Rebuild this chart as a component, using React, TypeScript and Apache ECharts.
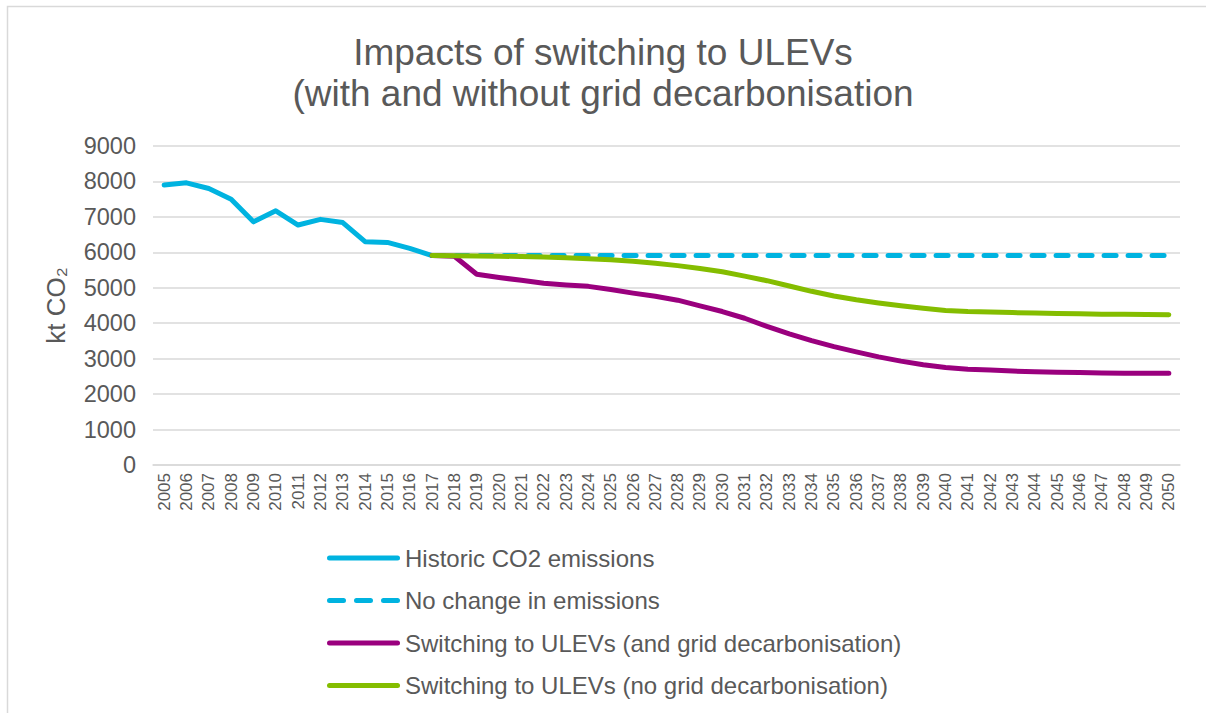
import React, { useEffect, useRef } from "react";
import * as echarts from "echarts";

const years = [
  "2005", "2006", "2007", "2008", "2009", "2010", "2011", "2012", "2013", "2014",
  "2015", "2016", "2017", "2018", "2019", "2020", "2021", "2022", "2023", "2024",
  "2025", "2026", "2027", "2028", "2029", "2030", "2031", "2032", "2033", "2034",
  "2035", "2036", "2037", "2038", "2039", "2040", "2041", "2042", "2043", "2044",
  "2045", "2046", "2047", "2048", "2049", "2050",
];

// 2005–2017
const historic = [7900, 7960, 7800, 7500, 6860, 7170, 6770, 6930, 6840, 6300, 6280, 6110, 5910];

// 2017–2050
const noChange = [
  5910, 5910, 5910, 5910, 5910, 5910, 5910, 5910, 5910, 5910, 5910, 5910,
  5910, 5910, 5910, 5910, 5910, 5910, 5910, 5910, 5910, 5910, 5910, 5910,
  5910, 5910, 5910, 5910, 5910, 5910, 5910, 5910, 5910, 5910,
];

// 2017–2050
const ulevGrid = [
  5910, 5890, 5380, 5290, 5210, 5130, 5080, 5040, 4950, 4850, 4760, 4650,
  4490, 4330, 4140, 3910, 3700, 3510, 3340, 3190, 3050, 2930, 2830, 2750,
  2700, 2680, 2650, 2630, 2615, 2610, 2595, 2590, 2590, 2590,
];

// 2017–2050
const ulevNoGrid = [
  5910, 5905, 5900, 5890, 5880, 5865, 5845, 5820, 5790, 5750, 5690, 5625,
  5545, 5450, 5330, 5200, 5050, 4900, 4770, 4660, 4570, 4490, 4420, 4360,
  4330, 4315, 4300, 4285, 4275, 4265, 4255, 4250, 4245, 4240,
];

const seriesNames = [
  "Historic CO2 emissions",
  "No change in emissions",
  "Switching to ULEVs (and grid decarbonisation)",
  "Switching to ULEVs (no grid decarbonisation)",
];

const TEXT = "#595959";
const FONT = "'Liberation Sans', Arial, sans-serif";

const SOLID_ICON =
  "path://M2.5,0 L70.5,0 A2.5,2.5 0 0 1 70.5,5 L2.5,5 A2.5,2.5 0 0 1 2.5,0 Z";
const DASH_ICON =
  "path://M2.5,0 L16.5,0 A2.5,2.5 0 0 1 16.5,5 L2.5,5 A2.5,2.5 0 0 1 2.5,0 Z " +
  "M29.5,0 L43.5,0 A2.5,2.5 0 0 1 43.5,5 L29.5,5 A2.5,2.5 0 0 1 29.5,0 Z " +
  "M56.5,0 L70.5,0 A2.5,2.5 0 0 1 70.5,5 L56.5,5 A2.5,2.5 0 0 1 56.5,0 Z";

function padFromStart(vals: number[], startYear: string) {
  const idx = years.indexOf(startYear);
  const out: (number | null)[] = years.map(() => null);
  vals.forEach((v, i) => {
    out[idx + i] = v;
  });
  return out;
}

export default function App() {
  const ref = useRef<HTMLDivElement>(null);

  useEffect(() => {
    if (!ref.current) return;
    const chart = echarts.init(ref.current, null, { renderer: "svg" });
    const lineBase = (color: string, dashed = false) => ({
      color,
      width: 5,
      type: dashed ? [12, 12] : "solid",
      cap: "round",
      join: "round",
    });
    chart.setOption({
      animation: false,
      backgroundColor: "#ffffff",
      textStyle: { fontFamily: FONT, color: TEXT },
      graphic: [
        {
          type: "rect",
          shape: { x: 7.5, y: 6.5, width: 1400, height: 900 },
          style: { fill: "none", stroke: "#d9d9d9", lineWidth: 1.5 },
          silent: true,
        },
      ],
      title: {
        text: "Impacts of switching to ULEVs\n(with and without grid decarbonisation",
        left: "center",
        top: 27,
        textStyle: {
          fontFamily: FONT,
          fontSize: 37,
          lineHeight: 41,
          fontWeight: "normal",
          color: TEXT,
        },
      },
      grid: { left: 153, right: 26, top: 146, bottom: 248, containLabel: false },
      legend: {
        orient: "vertical",
        left: 322,
        top: 541,
        itemWidth: 73,
        itemHeight: 5,
        itemGap: 18.5,
        data: [
          { name: seriesNames[0], icon: SOLID_ICON },
          { name: seriesNames[1], icon: DASH_ICON },
          { name: seriesNames[2], icon: SOLID_ICON },
          { name: seriesNames[3], icon: SOLID_ICON },
        ],
        textStyle: { fontFamily: FONT, fontSize: 24, color: TEXT },
      },
      xAxis: {
        type: "category",
        data: years,
        boundaryGap: true,
        axisLine: { show: true, lineStyle: { color: "#d9d9d9", width: 1.5 } },
        axisTick: { show: false },
        axisLabel: {
          rotate: 90,
          interval: 0,
          margin: 8,
          fontFamily: FONT,
          fontSize: 17,
          color: TEXT,
        },
        splitLine: { show: false },
      },
      yAxis: {
        type: "value",
        min: 0,
        max: 9000,
        interval: 1000,
        name: "kt CO₂",
        nameLocation: "middle",
        nameRotate: 90,
        nameGap: 84,
        nameTextStyle: { fontFamily: FONT, fontSize: 26, color: TEXT },
        axisLine: { show: false },
        axisTick: { show: false },
        axisLabel: {
          margin: 17,
          fontFamily: FONT,
          fontSize: 23.5,
          color: TEXT,
          formatter: (v: number) => String(v),
        },
        splitLine: { lineStyle: { color: "#d9d9d9", width: 1.5 } },
      },
      series: [
        {
          name: seriesNames[0],
          type: "line",
          data: padFromStart(historic, "2005"),
          symbol: "none",
          color: "#00b3e0",
          lineStyle: lineBase("#00b3e0"),
        },
        {
          name: seriesNames[1],
          type: "line",
          data: padFromStart(noChange, "2017"),
          symbol: "none",
          color: "#00b3e0",
          lineStyle: lineBase("#00b3e0", true),
        },
        {
          name: seriesNames[2],
          type: "line",
          data: padFromStart(ulevGrid, "2017"),
          symbol: "none",
          color: "#9a007e",
          lineStyle: lineBase("#9a007e"),
        },
        {
          name: seriesNames[3],
          type: "line",
          data: padFromStart(ulevNoGrid, "2017"),
          symbol: "none",
          color: "#84bd00",
          lineStyle: lineBase("#84bd00"),
        },
      ],
    });
    return () => chart.dispose();
  }, []);

  return (
    <div
      ref={ref}
      style={{ position: "absolute", left: 0, top: 0, width: 1206, height: 713 }}
    />
  );
}
